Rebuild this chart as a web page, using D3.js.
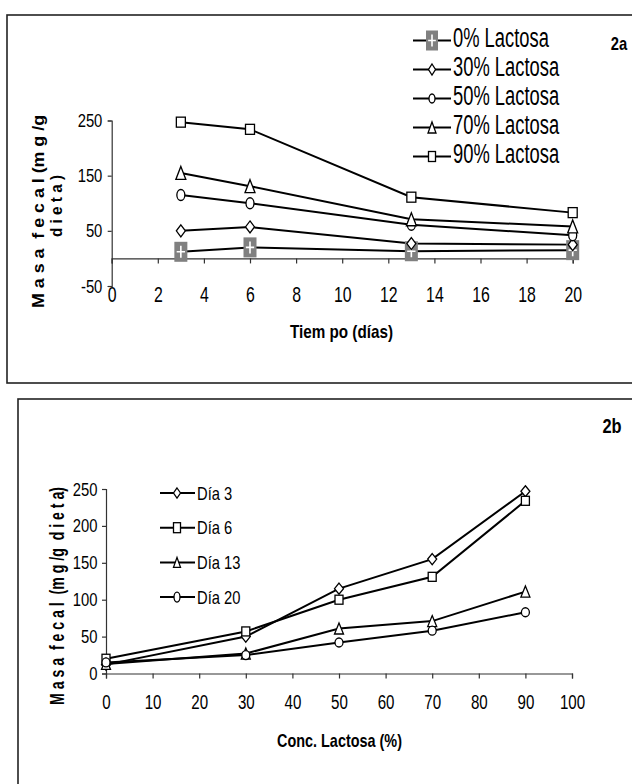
<!DOCTYPE html>
<html><head><meta charset="utf-8">
<script src="https://cdn.jsdelivr.net/npm/d3@7"></script>
<style>body{margin:0;background:#fff}svg{display:block}text{font-family:"Liberation Sans",Arial,sans-serif;fill:#000;white-space:pre}</style>
</head><body><svg id="c" width="632" height="784"></svg>
<script>
// ---------- data ----------
const days = [3, 6, 13, 20];
const concentrations = [0, 30, 50, 70, 90];
const seriesNamesA = ["0% Lactosa", "30% Lactosa", "50% Lactosa", "70% Lactosa", "90% Lactosa"];
const lactosa0 = [12, 20, 13, 15];
const lactosa30 = [50, 57, 27, 25];
const lactosa50 = [115, 100, 61, 42];
const lactosa70 = [155, 131, 71, 58];
const lactosa90 = [247, 234, 111, 83];
const seriesNamesB = ["Día 3", "Día 6", "Día 13", "Día 20"];
const xTicksA = [0, 2, 4, 6, 8, 10, 12, 14, 16, 18, 20];
const yTicksA = [-50, 50, 150, 250];
const xTicksB = [0, 10, 20, 30, 40, 50, 60, 70, 80, 90, 100];
const yTicksB = [0, 50, 100, 150, 200, 250];

const valuesA = [lactosa0, lactosa30, lactosa50, lactosa70, lactosa90];
const markersA = ["gray", "diamond", "circle", "triangle", "square"];
// panel b: one series per day, across concentrations
const valuesB = days.map((d, j) => valuesA.map(s => s[j]));
const markersB = ["diamond", "square", "triangle", "circle"];

const svg = d3.select("#c");
const fmt = d => String(d);
const FONT = '"Liberation Sans",Arial,sans-serif';

function marker(g, type, cx, cy, w, h) {
  let el;
  if (type === "square") {
    el = g.append("rect").attr("x", cx - w / 2).attr("y", cy - h / 2).attr("width", w).attr("height", h);
  } else if (type === "diamond") {
    el = g.append("path").attr("d", `M${cx},${cy - h / 2}L${cx + w / 2},${cy}L${cx},${cy + h / 2}L${cx - w / 2},${cy}Z`);
  } else if (type === "circle") {
    el = g.append("ellipse").attr("cx", cx).attr("cy", cy).attr("rx", w / 2).attr("ry", h / 2);
  } else if (type === "triangle") {
    el = g.append("path").attr("d", `M${cx},${cy - h / 2}L${cx + w / 2},${cy + h / 2}L${cx - w / 2},${cy + h / 2}Z`);
  } else if (type === "gray") {
    g.append("rect").attr("x", cx - w / 2).attr("y", cy - h / 2).attr("width", w).attr("height", h).attr("fill", "#808080");
    g.append("path").attr("d", `M${cx - w * 0.32},${cy}H${cx + w * 0.32}M${cx},${cy - h * 0.3}V${cy + h * 0.3}`)
      .attr("stroke", "#fff").attr("stroke-width", 1.6).attr("fill", "none");
    return;
  }
  el.attr("stroke", "#000").attr("stroke-width", 1.3).attr("fill", "#fff");
}

function label(g, x, y, s, o) {
  const rot = o.rot ? ` rotate(${o.rot})` : "";
  const sc = o.sx ? ` scale(${o.sx},1)` : "";
  const t = g.append("text").attr("transform", `translate(${x},${y})${rot}${sc}`)
    .attr("font-size", o.size).attr("text-anchor", o.anchor || "start")
    .attr("xml:space", "preserve").text(s);
  if (o.bold) t.attr("font-weight", "bold");
  if (o.len) t.attr("textLength", o.len).attr("lengthAdjust", "spacingAndGlyphs");
  return t;
}

function styleAxis(g) {
  g.selectAll(".domain").attr("stroke", "#333").attr("stroke-width", 1.2);
  g.selectAll(".tick line").attr("stroke", "#333").attr("stroke-width", 1.2);
}

// ================= Panel 2a =================
const pa = svg.append("g");
pa.append("rect").attr("x", 7).attr("y", 15).attr("width", 640).attr("height", 368)
  .attr("fill", "none").attr("stroke", "#222").attr("stroke-width", 1.6);

const xA = d3.scaleLinear().domain([0, 20]).range([111.7, 572.7]);
const yA = d3.scaleLinear().domain([-50, 250]).range([286, 120.5]);

const yAxA = pa.append("g").attr("transform", `translate(${xA(0)},0)`)
  .call(d3.axisLeft(yA).tickValues(yTicksA).tickSize(4).tickPadding(8).tickFormat(fmt));
yAxA.selectAll("text").attr("font-size", 19).attr("transform", "scale(0.78,1)").attr("font-family", FONT);
styleAxis(yAxA);
const xAxA = pa.append("g").attr("transform", `translate(0,${yA(0)})`)
  .call(d3.axisBottom(xA).tickValues(xTicksA).tickSize(5).tickFormat(""));
styleAxis(xAxA);
const xLabA = pa.append("g").attr("transform", `translate(0,${yA(-50)})`)
  .call(d3.axisBottom(xA).tickValues(xTicksA).tickSize(0).tickPadding(0).tickFormat(fmt));
xLabA.select(".domain").remove();
xLabA.selectAll("text").attr("font-size", 22).attr("transform", "scale(0.72,1)").attr("font-family", FONT);

const lineA = d3.line().x((d, i) => xA(days[i])).y(d => yA(d));
valuesA.forEach(s => {
  pa.append("path").attr("d", lineA(s)).attr("fill", "none").attr("stroke", "#000").attr("stroke-width", 2);
});
const sizeA = {gray: [13, 20], diamond: [9, 12], circle: [8, 11], triangle: [10, 13], square: [9, 10]};
valuesA.forEach((s, k) => {
  s.forEach((v, i) => marker(pa, markersA[k], xA(days[i]), yA(v), ...sizeA[markersA[k]]));
});

const legSizeA = {gray: [12, 20], diamond: [7, 11], circle: [6, 9], triangle: [8, 11], square: [7, 10]};
seriesNamesA.forEach((n, k) => {
  const base = 47 + k * 29;
  const ly = base - 6.5;
  pa.append("line").attr("x1", 413).attr("x2", 451).attr("y1", ly).attr("y2", ly).attr("stroke", "#000").attr("stroke-width", 2);
  marker(pa, markersA[k], 432, ly, ...legSizeA[markersA[k]]);
  label(pa, 453, base, n, {size: 27, sx: 0.68});
});

label(pa, 619, 50, "2a", {size: 18, bold: true, sx: 0.82, anchor: "middle"});
label(pa, 341.5, 338, "Tiem po (días)", {size: 18.5, bold: true, anchor: "middle", len: 103});
label(pa, 44, 211.5, "M a s a  f e c a l (m g /g", {size: 16.5, bold: true, anchor: "middle", rot: -90, len: 193});
label(pa, 62, 206, "d i e t a )", {size: 16.5, bold: true, anchor: "middle", rot: -90, len: 62});

// ================= Panel 2b =================
const pb = svg.append("g");
pb.append("rect").attr("x", 18).attr("y", 399).attr("width", 640).attr("height", 420)
  .attr("fill", "none").attr("stroke", "#222").attr("stroke-width", 1.6);

const xB = d3.scaleLinear().domain([0, 100]).range([106, 572]);
const yB = d3.scaleLinear().domain([0, 250]).range([673.5, 489]);

const yAxB = pb.append("g").attr("transform", `translate(${xB(0)},0)`)
  .call(d3.axisLeft(yB).tickValues(yTicksB).tickSize(4).tickPadding(7).tickFormat(fmt));
yAxB.selectAll("text").attr("font-size", 19).attr("transform", "scale(0.78,1)").attr("font-family", FONT);
styleAxis(yAxB);
const xAxB = pb.append("g").attr("transform", `translate(0,${yB(0)})`)
  .call(d3.axisBottom(xB).tickValues(xTicksB).tickSize(5).tickPadding(16).tickFormat(fmt));
xAxB.selectAll("text").attr("font-size", 21).attr("transform", "scale(0.72,1)").attr("font-family", FONT);
styleAxis(xAxB);

const lineB = d3.line().x((d, i) => xB(concentrations[i])).y(d => yB(d));
valuesB.forEach(s => {
  pb.append("path").attr("d", lineB(s)).attr("fill", "none").attr("stroke", "#000").attr("stroke-width", 2);
});
const sizeB = {diamond: [9, 11], square: [8, 9], triangle: [9, 11], circle: [8, 9]};
valuesB.forEach((s, k) => {
  s.forEach((v, i) => marker(pb, markersB[k], xB(concentrations[i]), yB(v), ...sizeB[markersB[k]]));
});

const legSizeB = {diamond: [7, 10], square: [7, 10], triangle: [7, 10], circle: [6, 10]};
seriesNamesB.forEach((n, k) => {
  const ly = 493 + k * 34.7;
  pb.append("line").attr("x1", 160).attr("x2", 195).attr("y1", ly).attr("y2", ly).attr("stroke", "#000").attr("stroke-width", 2);
  marker(pb, markersB[k], 177, ly, ...legSizeB[markersB[k]]);
  label(pb, 197, ly + 6.5, n, {size: 18, sx: 0.82});
});

label(pb, 612, 433, "2b", {size: 20, bold: true, sx: 0.82, anchor: "middle"});
label(pb, 339.5, 747, "Conc. Lactosa (%)", {size: 18.5, bold: true, anchor: "middle", len: 125});
label(pb, 64, 596, "M a s a  f e c a l  (m g /g  d i e t a)", {size: 21, bold: true, anchor: "middle", rot: -90, len: 218});
</script></body></html>
